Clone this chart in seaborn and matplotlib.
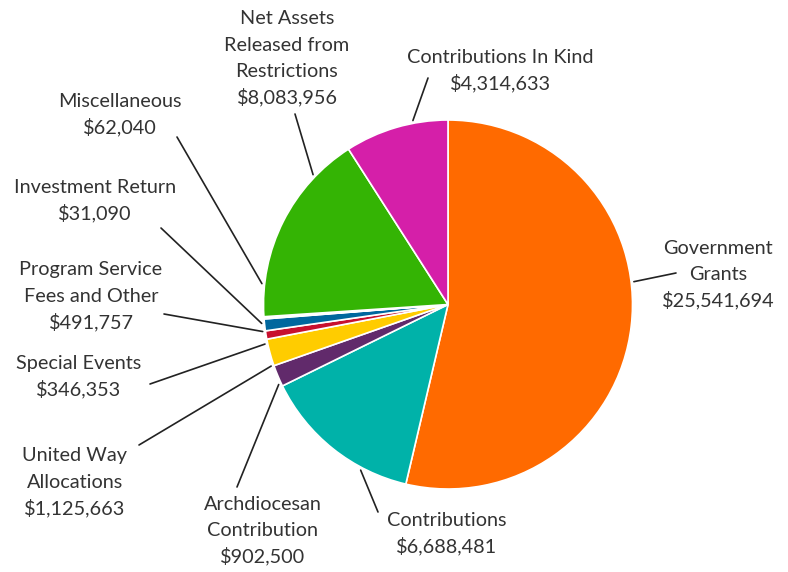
import numpy as np
import matplotlib
matplotlib.use("Agg")
import matplotlib.pyplot as plt
import seaborn as sns

# revenue categories, clockwise from the top
categories = [
    "Government\nGrants",
    "Contributions",
    "Archdiocesan\nContribution",
    "United Way\nAllocations",
    "Special Events",
    "Program Service\nFees and Other",
    "Investment Return",
    "Miscellaneous",
    "Net Assets\nReleased from\nRestrictions",
    "Contributions In Kind",
]
amounts = [25541694, 6688481, 902500, 1125663, 346353, 491757, 31090, 62040, 8083956, 4314633]
colors = ["#FF6A00", "#00B2A9", "#612A6B", "#FFCC00", "#C8102E", "#00679E",
          "#9DB9D5", "#1B365D", "#34B404", "#D51FA9"]

# label layout (pixels in the 788x572 canvas) and leader line anchor angles
label_xy = [(718, 273), (447, 532), (263, 529), (75, 481), (79, 375),
            (91, 295), (95, 199), (120, 113), (287, 57), (500, 69)]
line_end = [(676, 273), (378, 512), (237, 487), (139, 445), (150, 384),
            (164, 314), (161, 228), (177, 137), (295, 114), (428, 78)]
anchor_deg = [7.0, 242.2, 205.3, 199.2, 192.2, 188.3, 185.8, 173.6, 136.1, 100.8]
LINE_GAP = 26.5  # px between text lines

W, H = 788, 572
CX, CY, R = 448, 304.5, 184.5


def px(p):
    # pixel position -> data coords (pie radius = 1)
    return ((p[0] - CX) / R, (CY - p[1]) / R)


sns.set_theme(style="white")
plt.rcParams["font.family"] = ["Lato", "DejaVu Sans"]

fig = plt.figure(figsize=(W / 100, H / 100), dpi=100)
ax = fig.add_axes([0, 0, 1, 1])
ax.pie(amounts, colors=colors, startangle=90, counterclock=False, radius=1,
       wedgeprops=dict(edgecolor="white", linewidth=1.2))
ax.set_xlim(-CX / R, (W - CX) / R)
ax.set_ylim(-(H - CY) / R, CY / R)
ax.set_aspect("equal")
ax.axis("off")

for i, name in enumerate(categories):
    a = np.deg2rad(anchor_deg[i])
    start = (1.015 * np.cos(a), 1.015 * np.sin(a))
    end = px(line_end[i])
    ax.plot([start[0], end[0]], [start[1], end[1]], color="#222222", lw=1.2)

    lines = name.split("\n") + [f"${amounts[i]:,}"]
    lx, ly = label_xy[i]
    top = ly - LINE_GAP * (len(lines) - 1) / 2
    for k, s in enumerate(lines):
        tx, ty = px((lx, top + k * LINE_GAP + 7))
        ax.text(tx, ty, s, ha="center", va="baseline", fontsize=14.3, color="#333333")

fig.savefig("out.png", dpi=100)
